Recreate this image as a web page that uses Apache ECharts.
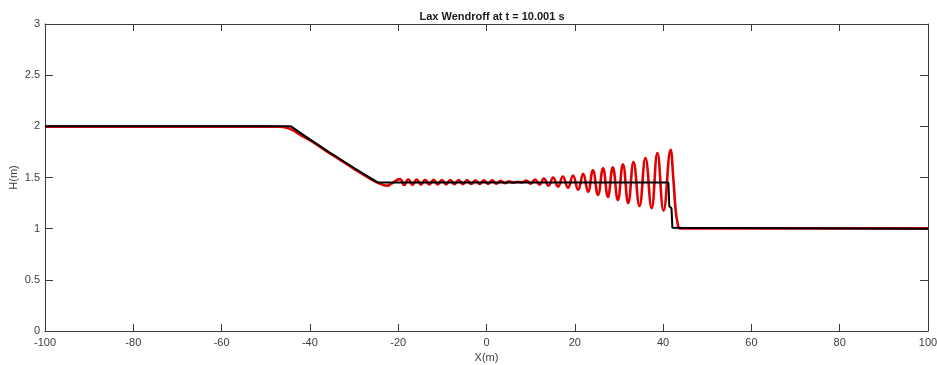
<!DOCTYPE html>
<html>
<head>
<meta charset="utf-8">
<script src="https://cdn.jsdelivr.net/npm/echarts@6/dist/echarts.min.js"></script>
<style>html,body{margin:0;padding:0;background:#fff}#c{width:937px;height:365px}</style>
</head>
<body>
<div id="c"></div>
<script>
var chartTitle = 'Lax Wendroff at t = 10.001 s';
var xName = 'X(m)';
var yName = 'H(m)';

// Lax-Wendroff numerical solution (red)
var redX = [-100, -50, -47, -45.5, -44, -42, -40, -35, -30, -26, -24.5, -23.5, -22.5, -21.5,
  -19.6, -18.65, -17.7, -16.75, -15.8, -14.85, -13.9, -12.95, -12.0, -11.05, -10.1, -9.15,
  -8.2, -7.25, -6.3, -5.35, -4.4, -3.45, -2.5, -1.55, -0.6, 0.35, 1.3, 2.25, 3.2, 4.15,
  5.1, 6.05, 7.0, 7.95, 9.0, 10.0, 11.0, 12.0, 13.0, 14.05, 15.1, 16.2, 17.3, 18.45,
  19.6, 20.75, 21.9, 23.0, 24.1, 25.25, 26.4, 27.5, 28.6, 29.75, 30.9, 32.1, 33.3, 34.65,
  36.0, 37.4, 38.7, 40.1, 41.7, 42.3, 42.8, 43.3, 43.8, 45, 100];
var redY = [1.997, 1.997, 1.996, 1.99, 1.965, 1.912, 1.865, 1.722, 1.585, 1.48, 1.446, 1.428, 1.42, 1.44,
  1.484, 1.426, 1.482, 1.428, 1.48, 1.43, 1.478, 1.431, 1.477, 1.432, 1.476, 1.433,
  1.475, 1.434, 1.474, 1.435, 1.474, 1.436, 1.473, 1.436, 1.472, 1.437, 1.472, 1.439, 1.468, 1.444,
  1.462, 1.45, 1.458, 1.452, 1.47, 1.44, 1.48, 1.43, 1.49, 1.42, 1.50, 1.41, 1.51, 1.40,
  1.52, 1.38, 1.535, 1.36, 1.57, 1.33, 1.59, 1.31, 1.60, 1.28, 1.63, 1.25, 1.65, 1.22,
  1.69, 1.20, 1.74, 1.175, 1.77, 1.5, 1.2, 1.05, 1.003, 1.003, 1.003];

// Exact solution (black)
var blackX = [-100, -44.3, -40, -35, -30, -24.55, 41.2, 41.4, 41.9, 42.1, 42.5, 100];
var blackY = [2.0, 2.0, 1.873, 1.730, 1.593, 1.45, 1.45, 1.22, 1.20, 1.01, 1.0, 1.0];

var xMin = -100, xMax = 100, xStep = 20;
var yMin = 0, yMax = 3, yStep = 0.5;

function pairs(xs, ys) { return xs.map(function (x, i) { return [x, ys[i]]; }); }

var axisCol = '#3a3a3a';
var lblCol = '#3c3c3c';
var fontFam = 'Liberation Sans, Arial, sans-serif';

var chart = echarts.init(document.getElementById('c'), null, { renderer: 'canvas' });
chart.setOption({
  animation: false,
  backgroundColor: '#ffffff',
  title: {
    text: chartTitle, left: 487, top: 6, textAlign: 'center',
    textStyle: { fontSize: 11, fontWeight: 'bold', color: '#1a1a1a', fontFamily: fontFam }
  },
  grid: { left: 45, right: 9, top: 24, bottom: 34, containLabel: false, outerBoundsMode: 'none' },
  xAxis: [{
    type: 'value', min: xMin, max: xMax, interval: xStep, position: 'bottom',
    name: xName, nameLocation: 'middle', nameGap: 21, nameMoveOverlap: false,
    nameTextStyle: { fontSize: 11, color: lblCol, fontFamily: fontFam },
    axisLine: { show: true, onZero: false, lineStyle: { color: axisCol, width: 1 } },
    axisTick: { show: true, inside: true, length: 7, lineStyle: { color: axisCol } },
    axisLabel: { fontSize: 11, color: lblCol, margin: 6, fontFamily: fontFam },
    splitLine: { show: false }
  }, {
    type: 'value', min: xMin, max: xMax, interval: xStep, position: 'top',
    axisLine: { show: true, onZero: false, lineStyle: { color: axisCol, width: 1 } },
    axisTick: { show: true, inside: true, length: 7, lineStyle: { color: axisCol } },
    axisLabel: { show: false }, splitLine: { show: false }
  }],
  yAxis: [{
    type: 'value', min: yMin, max: yMax, interval: yStep, position: 'left',
    name: yName, nameLocation: 'middle', nameGap: 26, nameRotate: 90, nameMoveOverlap: false,
    nameTextStyle: { fontSize: 11, color: lblCol, fontFamily: fontFam },
    axisLine: { show: true, onZero: false, lineStyle: { color: axisCol, width: 1 } },
    axisTick: { show: true, inside: true, length: 8, lineStyle: { color: axisCol } },
    axisLabel: { fontSize: 11, color: lblCol, margin: 5, fontFamily: fontFam },
    splitLine: { show: false }
  }, {
    type: 'value', min: yMin, max: yMax, interval: yStep, position: 'right',
    axisLine: { show: true, onZero: false, lineStyle: { color: axisCol, width: 1 } },
    axisTick: { show: true, inside: true, length: 8, lineStyle: { color: axisCol } },
    axisLabel: { show: false }, splitLine: { show: false }
  }],
  series: [{
    type: 'line', name: 'Lax Wendroff', xAxisIndex: 0, yAxisIndex: 0,
    data: pairs(redX, redY), showSymbol: false, smooth: 0.45,
    lineStyle: { color: '#e00000', width: 2.6 }, z: 2
  }, {
    type: 'line', name: 'Exact', xAxisIndex: 0, yAxisIndex: 0,
    data: pairs(blackX, blackY), showSymbol: false, smooth: false,
    lineStyle: { color: '#000000', width: 2 }, z: 3
  }]
});
</script>
</body>
</html>
